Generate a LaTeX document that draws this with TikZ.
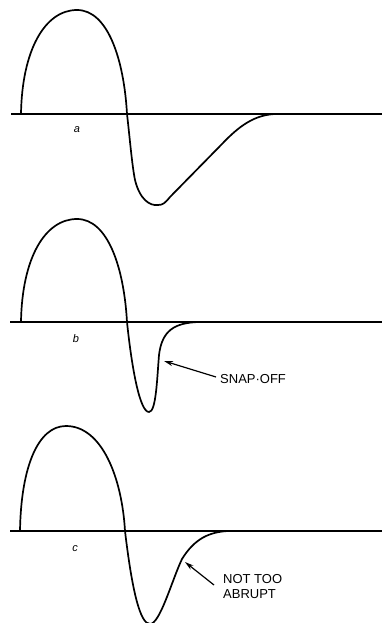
\documentclass[tikz,border=0pt]{standalone}
\usepackage{fontspec}
\setmainfont{Liberation Sans}
\usetikzlibrary{arrows.meta}
\begin{document}
\begin{tikzpicture}[x=1pt,y=-1pt,
  axis/.style={line width=1.3pt},
  wave/.style={line width=1.7pt, line join=round, line cap=round},
  pointer/.style={line width=1.2pt, -{Stealth[length=9pt,width=5pt]}},
  note/.style={font=\fontsize{13}{15}\selectfont, inner sep=0pt, anchor=west, align=left},
  tag/.style={font=\fontsize{11}{13}\selectfont\itshape, inner sep=0pt}]
\useasboundingbox (0,0) rectangle (382,623);

% panel a
\draw[axis] (11,114) -- (382,114);
\draw[wave] (21,114) .. controls (22,50) and (45,10) .. (77,10)
  .. controls (108,10) and (124,60) .. (127,114)
  .. controls (130,140) and (132,165) .. (135,180)
  .. controls (140,200) and (150,206) .. (158,205)
  .. controls (163,205) and (165,203) .. (170,197)
  -- (222,144)
  .. controls (240,125) and (255,115) .. (275,114);
\node[tag] (la) at (77,130) {a};

% panel b
\draw[axis] (10,322) -- (382,322);
\draw[wave] (21,322) .. controls (22,258) and (45,219) .. (77,219)
  .. controls (108,219) and (124,268) .. (127,322)
  .. controls (132,370) and (140,412) .. (149,412)
  .. controls (156,412) and (157,380) .. (159,355)
  .. controls (162,330) and (175,323) .. (198,322);
\node[tag] (lb) at (76,339) {b};
\coordinate (tipb) at (164,361);
\node[note] (snap) at (220,379) {SNAP·OFF};
\draw[pointer] (216,377) -- (tipb);

% panel c
\draw[axis] (10,531) -- (382,531);
\draw[wave] (20,531) .. controls (21,467) and (38,426) .. (66,426)
  .. controls (102,426) and (122,478) .. (125,531)
  .. controls (132,590) and (140,624) .. (150,624)
  .. controls (160,624) and (172,580) .. (182,559)
  .. controls (195,538) and (210,532) .. (228,531);
\node[tag] (lc) at (75,549) {c};
\coordinate (tipc) at (185,562);
\node[note] (abrupt) at (223,587) {NOT TOO\\ABRUPT};
\draw[pointer] (214,585) -- (tipc);
\end{tikzpicture}
\end{document}
